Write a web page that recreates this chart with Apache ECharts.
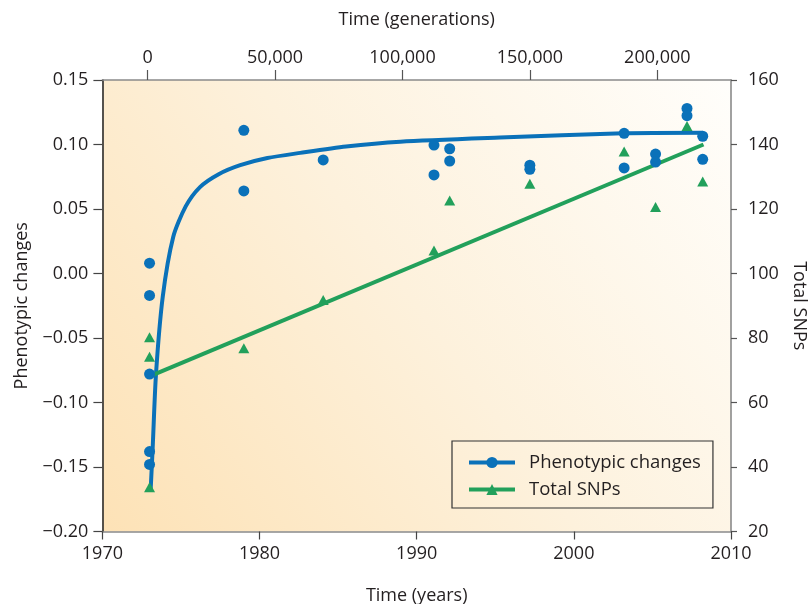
<!DOCTYPE html>
<html>
<head>
<meta charset="utf-8">
<script src="https://cdn.jsdelivr.net/npm/echarts@6/dist/echarts.min.js"></script>
<style>
html,body{margin:0;padding:0;background:#ffffff;}
#chart{width:810px;height:604px;}
</style>
</head>
<body>
<div id="chart"></div>
<script>
// ---- Data ----
const seriesNames = ['Phenotypic changes', 'Total SNPs'];

// Observed phenotypic changes (circles)
const phenoYears  = [1973, 1973, 1973, 1973, 1973, 1979, 1979, 1984.05, 1991.1, 1991.1, 1992.1, 1992.1, 1997.2, 1997.2, 2003.2, 2003.2, 2005.2, 2005.2, 2007.2, 2007.2, 2008.2, 2008.2];
const phenoValues = [0.008, -0.017, -0.078, -0.138, -0.148, 0.111, 0.064, 0.088, 0.0996, 0.0764, 0.0967, 0.0872, 0.084, 0.0808, 0.1087, 0.0818, 0.0926, 0.0864, 0.128, 0.1223, 0.1064, 0.0885];

// Observed total SNPs (triangles)
const snpYears  = [1973, 1973, 1973, 1979, 1984.05, 1991.1, 1992.1, 1997.2, 2003.2, 2005.2, 2007.2, 2008.2];
const snpValues = [80.2, 74.2, 33.7, 76.8, 91.8, 107.1, 122.6, 127.8, 137.8, 120.6, 145.7, 128.5];

// Fitted curve for phenotypic changes
const phenoFitYears  = [1973.07, 1973.2, 1973.41, 1973.84, 1974.51, 1975.3, 1976.21, 1977.4, 1978.77, 1980.5, 1982.59, 1985.5, 1988.96, 1995.3, 2003.15, 2008.19];
const phenoFitValues = [-0.168, -0.135, -0.078, -0.018, 0.0285, 0.052, 0.067, 0.077, 0.084, 0.0895, 0.0935, 0.0985, 0.1022, 0.1054, 0.1087, 0.1091];

// Fitted line for total SNPs
const snpFitYears  = [1972.96, 2008.25];
const snpFitValues = [68, 140];

// Axis ticks
const yearTicks = [1970, 1980, 1990, 2000, 2010];
const generationTicks = [0, 50000, 100000, 150000, 200000];
const phenoTicks = [-0.20, -0.15, -0.10, -0.05, 0.00, 0.05, 0.10, 0.15];
const snpTicks = [20, 40, 60, 80, 100, 120, 140, 160];

// ---- Chart ----
const zip = (xs, ys) => xs.map((x, i) => [x, ys[i]]);
const FONT = 'Open Sans';
const TXT = '#231f20';
const BLUE = '#0a71b9';
const GREEN = '#22a05b';

const chart = echarts.init(document.getElementById('chart'));
const labelStyle = { color: TXT, fontFamily: FONT, fontSize: 18 };
const nameStyle = { color: TXT, fontFamily: FONT, fontSize: 18 };

chart.setOption({
  animation: false,
  textStyle: { fontFamily: FONT },
  grid: {
    left: 102.4, right: 79, top: 80, bottom: 72.5,
    outerBoundsMode: 'none',
    containLabel: false,
    show: true, borderWidth: 0,
    backgroundColor: {
      type: 'linear', x: 0, y: 1, x2: 1, y2: 0,
      colorStops: [
        { offset: 0, color: '#fde2b6' },
        { offset: 0.5, color: '#fdf1dc' },
        { offset: 1, color: '#fffefb' }
      ]
    }
  },
  legend: {
    data: seriesNames,
    orient: 'vertical',
    left: 452, top: 441,
    padding: [12, 12, 9, 15],
    itemGap: 8,
    itemWidth: 46, itemHeight: 14,
    borderColor: '#333', borderWidth: 1.2,
    backgroundColor: 'transparent',
    lineStyle: { width: 4 },
    textStyle: { color: TXT, fontFamily: FONT, fontSize: 18.5, padding: [0, 0, 0, 9] }
  },
  xAxis: [
    {
      type: 'value', position: 'bottom',
      min: yearTicks[0], max: yearTicks[yearTicks.length - 1], interval: 10,
      name: 'Time (years)', nameLocation: 'middle', nameGap: 55, nameTextStyle: nameStyle,
      axisLine: { show: true, onZero: false, lineStyle: { color: '#8a8a8a', width: 1.6 } },
      axisTick: { show: true, length: 8, lineStyle: { color: '#444', width: 1.2 } },
      axisLabel: Object.assign({ margin: 13, formatter: v => String(v) }, labelStyle),
      splitLine: { show: false }
    },
    {
      type: 'value', position: 'top',
      min: -17780, max: 228925,
      name: 'Time (generations)', nameLocation: 'middle', nameGap: 51, nameTextStyle: nameStyle,
      axisLine: { show: true, onZero: false, lineStyle: { color: '#8a8a8a', width: 1.6 } },
      axisTick: { show: true, length: 10, customValues: generationTicks, lineStyle: { color: '#555', width: 1.2 } },
      axisLabel: Object.assign({ margin: 13, customValues: generationTicks,
        formatter: v => Number(v).toLocaleString('en-US') }, labelStyle),
      splitLine: { show: false }
    }
  ],
  yAxis: [
    {
      type: 'value', position: 'left',
      min: phenoTicks[0], max: phenoTicks[phenoTicks.length - 1], interval: 0.05,
      name: 'Phenotypic changes', nameLocation: 'middle', nameGap: 72, nameTextStyle: nameStyle,
      axisLine: { show: true, onZero: false, lineStyle: { color: '#2b2b2b', width: 1.6 } },
      axisTick: { show: true, length: 9, lineStyle: { color: '#444', width: 1.2 } },
      axisLabel: Object.assign({ margin: 14,
        formatter: v => (v < -1e-9 ? '\u2212' : '') + Math.abs(v).toFixed(2) }, labelStyle),
      splitLine: { show: false }
    },
    {
      type: 'value', position: 'right',
      min: snpTicks[0], max: snpTicks[snpTicks.length - 1], interval: 20,
      name: 'Total SNPs', nameLocation: 'middle', nameGap: 56, nameRotate: -90, nameTextStyle: nameStyle,
      axisLine: { show: true, onZero: false, lineStyle: { color: '#8a8a8a', width: 1.6 } },
      axisTick: { show: true, length: 6, lineStyle: { color: '#555', width: 1.2 } },
      axisLabel: Object.assign({ margin: 17 }, labelStyle),
      splitLine: { show: false }
    }
  ],
  series: [
    {
      name: seriesNames[0], type: 'line', xAxisIndex: 0, yAxisIndex: 0,
      data: zip(phenoFitYears, phenoFitValues),
      smooth: 0.25,
      symbol: 'circle', symbolSize: 10, showSymbol: false,
      lineStyle: { color: BLUE, width: 4 }, itemStyle: { color: BLUE }, z: 2
    },
    {
      name: seriesNames[1], type: 'line', xAxisIndex: 0, yAxisIndex: 1,
      data: zip(snpFitYears, snpFitValues),
      symbol: 'triangle', symbolSize: 10, showSymbol: false,
      lineStyle: { color: GREEN, width: 4 }, itemStyle: { color: GREEN }, z: 2
    },
    {
      name: seriesNames[0], type: 'scatter', xAxisIndex: 0, yAxisIndex: 0,
      data: zip(phenoYears, phenoValues),
      symbol: 'circle', symbolSize: 11,
      itemStyle: { color: BLUE, opacity: 1 }, z: 3
    },
    {
      name: seriesNames[1], type: 'scatter', xAxisIndex: 0, yAxisIndex: 1,
      data: zip(snpYears, snpValues),
      symbol: 'triangle', symbolSize: [11, 10],
      itemStyle: { color: GREEN, opacity: 1 }, z: 3
    }
  ]
});
</script>
</body>
</html>
